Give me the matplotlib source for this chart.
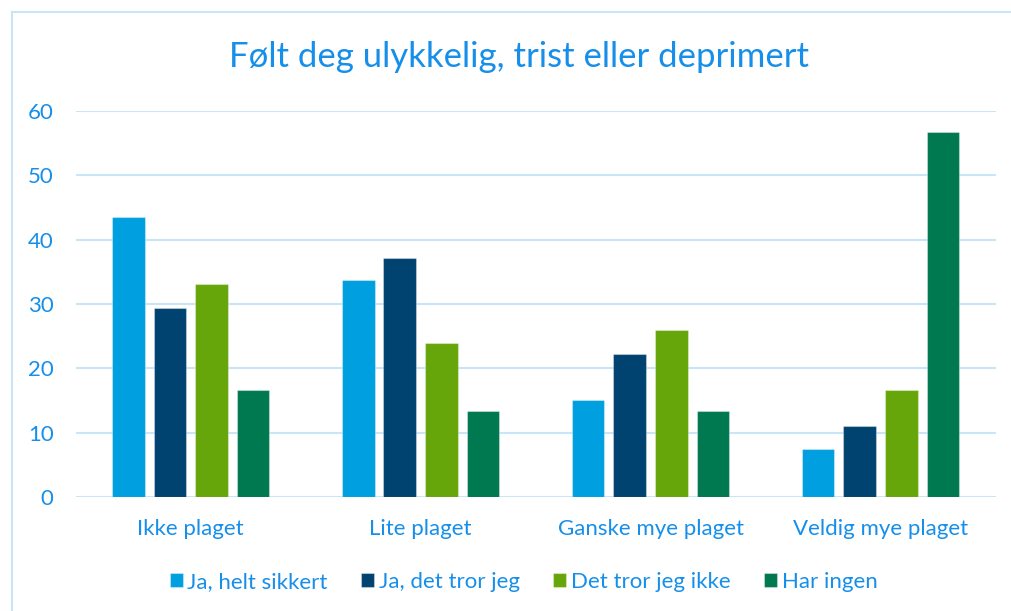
import numpy as np
import matplotlib
matplotlib.use('Agg')
import matplotlib.pyplot as plt
from matplotlib.lines import Line2D

# data
categories = ['Ikke plaget', 'Lite plaget', 'Ganske mye plaget', 'Veldig mye plaget']
series_names = ['Ja, helt sikkert', 'Ja, det tror jeg', 'Det tror jeg ikke', 'Har ingen']
ja_helt_sikkert = [43.5, 33.7, 15.0, 7.4]
ja_det_tror_jeg = [29.3, 37.2, 22.2, 11.1]
det_tror_jeg_ikke = [33.1, 23.9, 26.0, 16.7]
har_ingen = [16.6, 13.3, 13.3, 56.7]
yticks = [0, 10, 20, 30, 40, 50, 60]

colors = ['#00A0E0', '#004270', '#66A60A', '#007850']
text_color = '#168FEA'
grid_color = '#C9E6F8'

plt.rcParams['font.family'] = ['Lato', 'DejaVu Sans']

fig = plt.figure(figsize=(10.12, 6.11), dpi=100)
ax = fig.add_axes([0.0748, 0.1866, 0.9089, 0.6318])

x = np.arange(len(categories))
width = 0.142
pitch = 0.181
values = [ja_helt_sikkert, ja_det_tror_jeg, det_tror_jeg_ikke, har_ingen]
for i, (vals, name) in enumerate(zip(values, series_names)):
    ax.bar(x + (i - 1.5) * pitch, vals, width, color=colors[i], label=name,
           edgecolor=(1, 1, 1, 0.35), linewidth=0.8, zorder=3)

ax.set_xlim(-0.5, 3.5)
ax.set_ylim(0, 60)
ax.set_yticks(yticks)
ax.set_xticks(x)
ax.set_xticklabels(categories)
ax.tick_params(axis='both', length=0, labelcolor=text_color, labelsize=16)
ax.tick_params(axis='y', pad=16)
ax.tick_params(axis='x', pad=16)
ax.grid(axis='y', color=grid_color, linewidth=1.5, zorder=0)
ax.set_axisbelow(True)
for s in ax.spines.values():
    s.set_visible(False)

fig.text(0.5125, 1 - 67 / 611, 'Følt deg ulykkelig, trist eller deprimert',
         ha='center', va='baseline', fontsize=25, color=text_color)

fig.legend(loc='center', bbox_to_anchor=(523.5 / 1012, 1 - 582 / 611), ncol=4,
           frameon=False, fontsize=16, labelcolor=text_color,
           handlelength=0.6, handleheight=0.6, handletextpad=0.2,
           columnspacing=1.5)

# chart border (light blue)
fig.add_artist(Line2D([11.7 / 1012, 11.7 / 1012], [0, 1 - 12.3 / 611],
                      transform=fig.transFigure, color=grid_color, lw=1.5))
fig.add_artist(Line2D([11.7 / 1012, 1], [1 - 12.3 / 611, 1 - 12.3 / 611],
                      transform=fig.transFigure, color=grid_color, lw=1.5))

fig.savefig('out.png', dpi=100)
